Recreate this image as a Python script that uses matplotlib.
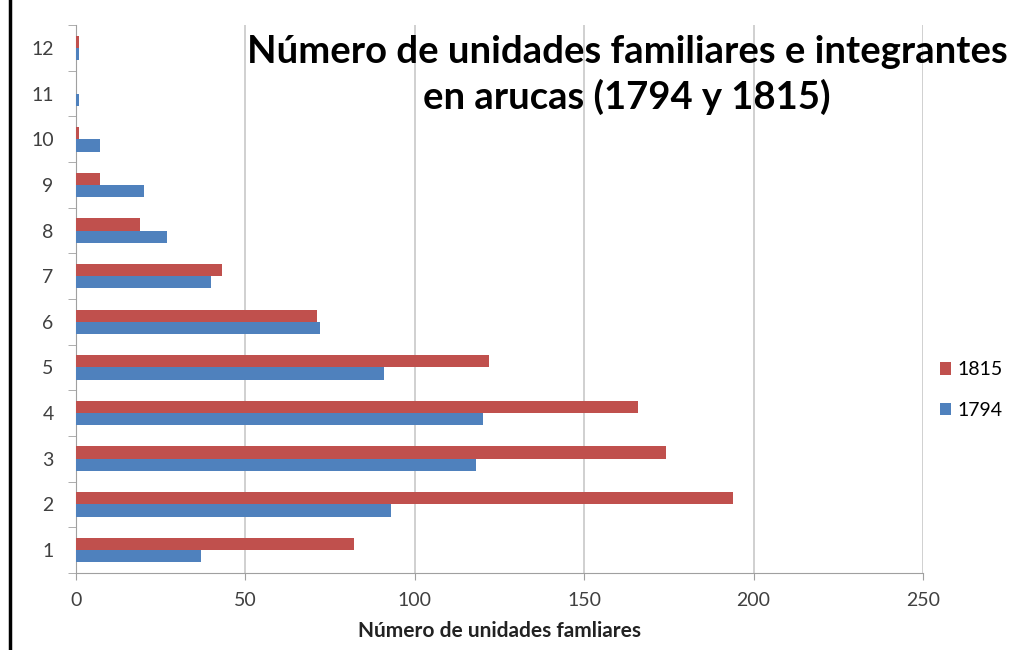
import numpy as np
import matplotlib.pyplot as plt

plt.rcParams['font.family'] = ['Lato', 'DejaVu Sans']

categorias = [1, 2, 3, 4, 5, 6, 7, 8, 9, 10, 11, 12]
valores_1815 = [82, 194, 174, 166, 122, 71, 43, 19, 7, 1, 0, 1]
valores_1794 = [37, 93, 118, 120, 91, 72, 40, 27, 20, 7, 1, 1]
xticks = [0, 50, 100, 150, 200, 250]

rojo = '#C0504D'
azul = '#4F81BD'

fig = plt.figure(figsize=(10.17, 6.5), dpi=100)
ax = fig.add_axes([0.0747, 0.1185, 0.8329, 0.843])

y = np.array(categorias)
h = 0.27
ax.barh(y + h / 2, valores_1815, height=h, color=rojo, label='1815', zorder=3)
ax.barh(y - h / 2, valores_1794, height=h, color=azul, label='1794', zorder=3)

ax.set_xlim(0, 250)
ax.set_ylim(0.5, 12.5)
ax.set_xticks(xticks)
ax.set_yticks(categorias)
ax.set_yticks(np.arange(0.5, 13, 1), minor=True)
ax.tick_params(axis='y', which='major', length=0, pad=16, labelsize=14, labelcolor='#404040')
ax.tick_params(axis='y', which='minor', length=6, color='#a0a0a0')
ax.tick_params(axis='x', which='major', length=5, color='#a0a0a0', labelsize=14,
               labelcolor='#404040', pad=9)

ax.grid(axis='x', color='#c8c8c8', linewidth=1.2, zorder=0)
for s in ['top', 'right']:
    ax.spines[s].set_visible(False)
ax.spines['left'].set_color('#a0a0a0')
ax.spines['bottom'].set_color('#a0a0a0')

ax.set_xlabel('Número de unidades famliares', fontsize=15, fontweight='bold',
              color='#222222', labelpad=8)

fig.text(0.6165, 0.885, 'Número de unidades familiares e integrantes\nen arucas (1794 y 1815)',
         ha='center', va='center', fontsize=27.5, fontweight='bold', linespacing=1.32)

handles, labels = ax.get_legend_handles_labels()
fig.legend(handles, labels, loc='center left', bbox_to_anchor=(0.924, 0.40),
           frameon=False, fontsize=14, handlelength=0.6, handleheight=0.6,
           handletextpad=0.3, labelspacing=1.2, borderpad=0, borderaxespad=0)

# marco negro a la izquierda
fig.add_artist(plt.Line2D([0.01, 0.01], [0, 1], color='black', linewidth=2.5))

fig.savefig('out.png', dpi=100)
